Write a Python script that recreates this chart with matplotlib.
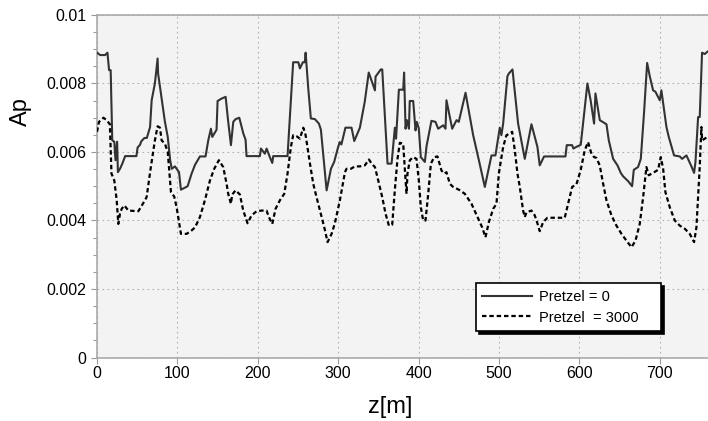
import matplotlib
matplotlib.use("Agg")
import matplotlib.pyplot as plt
from matplotlib.ticker import MultipleLocator

plt.rcParams['font.family'] = ['Liberation Sans', 'DejaVu Sans']

# Pretzel = 0 (solid)
z0 = [0, 4, 10, 13, 15, 17, 19, 21.5, 23, 25, 26, 28.6, 31.5, 35, 49, 50.5, 53.5, 55, 59, 62,
      66, 68, 72, 75.4, 76, 80.4, 84.5, 88, 91, 93, 97, 102, 104.4, 107, 112.7, 117.7, 122, 128,
      135, 138.4, 141.7, 143.4, 148.7, 150, 155, 160, 163, 166.6, 169.5, 172.4, 177, 182, 184.8,
      186, 202.6, 203.9, 208.8, 211, 215, 218, 219.2, 237, 244, 250.5, 252.4, 256, 258.5, 259.5,
      262.8, 266, 271, 276, 278.5, 285.6, 291, 295, 300, 302, 304, 309, 316.6, 320, 327, 333, 338,
      345.7, 346.5, 353, 354.8, 361.4, 366.4, 370.5, 372, 375.5, 380.9, 382, 383.8, 385.4, 388,
      389, 393.3, 396.2, 397.9, 400.3, 402.8, 407.8, 409.9, 416, 421, 424.4, 430.6, 433.5, 434.7,
      441.8, 447.2, 450, 458.4, 467.9, 475, 482.4, 490.7, 495.6, 501, 503, 505.2, 510.5, 512.2,
      516.8, 523.8, 532.1, 540.4, 547.8, 550.7, 556.1, 582.7, 584.3, 591, 592.6, 596.3, 601.7,
      610, 614, 618.3, 620, 625.4, 633.7, 636.6, 642, 647.4, 651.5, 654.4, 660.6, 665.6, 667.7,
      673, 676.4, 680.5, 684.3, 687.6, 691.7, 694.6, 700, 702, 708.3, 711.2, 717.8, 724.9, 727.8,
      733.2, 739.4, 742.7, 744.4, 747.7, 749.7, 752.6, 756, 759.3]
ap0 = [0.0089, 0.00883, 0.00883, 0.0089, 0.00839, 0.00839, 0.00634, 0.0063, 0.00576, 0.0063,
       0.00541, 0.00551, 0.00566, 0.00588, 0.00588, 0.00613, 0.00621, 0.00631, 0.00641, 0.00641,
       0.00673, 0.00751, 0.008, 0.00873, 0.00829, 0.00756, 0.00688, 0.00644, 0.00576, 0.00551,
       0.00558, 0.00541, 0.0049, 0.00493, 0.005, 0.00537, 0.00563, 0.00587, 0.00587, 0.00634,
       0.00668, 0.00644, 0.00665, 0.00749, 0.00756, 0.00761, 0.00693, 0.0062, 0.00688, 0.00696,
       0.007, 0.00654, 0.00636, 0.00588, 0.00588, 0.0061, 0.00595, 0.0061, 0.00585, 0.00568,
       0.00588, 0.00588, 0.00862, 0.00862, 0.00844, 0.00862, 0.00862, 0.0089, 0.00785, 0.00698,
       0.00696, 0.00683, 0.00665, 0.00488, 0.00551, 0.00571, 0.00615, 0.00629, 0.00622, 0.00671,
       0.00671, 0.00632, 0.00671, 0.00746, 0.00832, 0.0078, 0.0082, 0.00841, 0.00841, 0.00566,
       0.00566, 0.00671, 0.00639, 0.00782, 0.00782, 0.00832, 0.00668, 0.00693, 0.00668, 0.00749,
       0.00749, 0.00663, 0.00688, 0.00668, 0.00585, 0.00571, 0.00617, 0.00691, 0.00688, 0.00668,
       0.00678, 0.00668, 0.00751, 0.00668, 0.00693, 0.00688, 0.00773, 0.00649, 0.00576, 0.00498,
       0.0059, 0.0059, 0.00671, 0.00649, 0.00683, 0.00821, 0.00829, 0.00841, 0.00683, 0.0058,
       0.00681, 0.00615, 0.00561, 0.00587, 0.00587, 0.0062, 0.0062, 0.0061, 0.00615, 0.00621,
       0.008, 0.00751, 0.00683, 0.00771, 0.00693, 0.00681, 0.00634, 0.0058, 0.00561, 0.00539,
       0.00529, 0.00515, 0.005, 0.00548, 0.00556, 0.0058, 0.00717, 0.0086, 0.00821, 0.0078,
       0.00776, 0.00751, 0.0078, 0.00673, 0.00644, 0.0059, 0.00587, 0.0058, 0.0059, 0.00558,
       0.00539, 0.00571, 0.00702, 0.00702, 0.0089, 0.00886, 0.00893]

# Pretzel = 3000 (dashed)
z1 = [0, 2.5, 8, 12, 16, 18, 21.5, 24.5, 26.5, 28.6, 30.7, 34, 39, 51.4, 57.6, 61.7, 67, 72,
      75.4, 78.3, 80.4, 84.5, 88, 92, 96, 99, 104.4, 111.5, 117.7, 122, 128, 134.2, 140.5, 145.8,
      151.6, 157, 161.2, 163.2, 166.6, 168.2, 172.4, 177.7, 181.9, 187.3, 192.3, 198.5, 204.7,
      210.9, 213.8, 218, 222.1, 227.5, 232.9, 237, 241.2, 244, 248.2, 252.4, 256.6, 259.5, 264.9,
      269, 273.1, 279.4, 282.7, 286.8, 291.8, 295.9, 302.1, 308.4, 310.4, 315.8, 320.8, 327,
      333.2, 338.2, 342.3, 345.7, 349.8, 354.8, 358.9, 363.1, 367.2, 370.5, 373.8, 376.7, 380.9,
      383, 385, 386.2, 389.1, 393.3, 397.4, 400.3, 402.8, 405.7, 408.6, 412, 415.3, 419.4, 423.5,
      428.5, 431.8, 434.7, 438.9, 443, 450.1, 457.5, 465.8, 473.3, 479.1, 483.2, 487.4, 492.8,
      496.9, 499.8, 505.2, 509.3, 513.5, 516.4, 519.7, 523, 525.9, 530, 532.1, 534.2, 540.4,
      544.5, 547.8, 550.7, 554.9, 560.3, 581.8, 586, 591, 596.3, 601.7, 606.7, 610.8, 615, 618.3,
      621.2, 625.3, 629.6, 633.7, 639.9, 646.1, 652.4, 658.6, 664.8, 669.8, 675.1, 679.3, 683.4,
      686.3, 691.7, 697.9, 701.3, 704.2, 707, 712.4, 718.7, 724.9, 731.1, 737.3, 742.7, 745.6,
      749.7, 751.8, 752.6, 759.3]
ap1 = [0.00659, 0.00688, 0.007, 0.00693, 0.00681, 0.00537, 0.00517, 0.00459, 0.0039, 0.0042,
       0.00434, 0.00444, 0.00429, 0.00427, 0.00451, 0.00468, 0.00556, 0.00634, 0.00675, 0.00671,
       0.00634, 0.00624, 0.006, 0.00483, 0.0047, 0.00439, 0.00361, 0.00361, 0.00371, 0.0038,
       0.0041, 0.00459, 0.00517, 0.00551, 0.00576, 0.00556, 0.00507, 0.00478, 0.00449, 0.00476,
       0.00488, 0.00476, 0.00429, 0.00392, 0.00415, 0.00427, 0.00429, 0.00429, 0.0041, 0.0039,
       0.00434, 0.00459, 0.00478, 0.00537, 0.00615, 0.00649, 0.00646, 0.00639, 0.00671, 0.00649,
       0.00566, 0.00507, 0.00468, 0.0041, 0.0038, 0.00337, 0.00361, 0.00392, 0.00459, 0.00541,
       0.00551, 0.00551, 0.00558, 0.00558, 0.00561, 0.00578, 0.00564, 0.00556, 0.00517, 0.00468,
       0.0042, 0.00385, 0.00388, 0.0049, 0.0058, 0.00627, 0.00624, 0.00546, 0.00478, 0.00537,
       0.00576, 0.00585, 0.0058, 0.00517, 0.00439, 0.004, 0.004, 0.00478, 0.00566, 0.00585,
       0.00587, 0.00546, 0.00537, 0.00541, 0.00507, 0.00498, 0.0049, 0.00478, 0.00449, 0.0041,
       0.0038, 0.00351, 0.00395, 0.00434, 0.00449, 0.00537, 0.00615, 0.00649, 0.00654, 0.00659,
       0.00605, 0.00537, 0.00498, 0.00429, 0.0041, 0.00424, 0.00429, 0.00415, 0.00392, 0.00369,
       0.00395, 0.00408, 0.00408, 0.00449, 0.00498, 0.00505, 0.00548, 0.00605, 0.00629, 0.00595,
       0.00585, 0.00583, 0.00561, 0.00507, 0.00459, 0.00415, 0.00385, 0.00361, 0.00341, 0.00322,
       0.00341, 0.0039, 0.00468, 0.00556, 0.00532, 0.00539, 0.00548, 0.00585, 0.00551, 0.00483,
       0.00439, 0.004, 0.00385, 0.00376, 0.00361, 0.00337, 0.0038, 0.00556, 0.00673, 0.00634,
       0.00644]

series_labels = ["Pretzel = 0", "Pretzel  = 3000"]
xticks = [0, 100, 200, 300, 400, 500, 600, 700]
yticks = [0, 0.002, 0.004, 0.006, 0.008, 0.01]
ytick_labels = ["0", "0.002", "0.004", "0.006", "0.008", "0.01"]

fig = plt.figure(figsize=(7.08, 4.21), dpi=100)
ax = fig.add_axes([97 / 708, (421 - 357.5) / 421, (708 - 97) / 708, (357.5 - 15) / 421])
ax.set_facecolor('#f3f3f3')

ax.plot(z0, ap0, color='#333333', lw=1.5, label=series_labels[0], zorder=3)
ax.plot(z1, ap1, color='black', lw=1.6, linestyle=(0, (2, 1.3)), label=series_labels[1], zorder=3)

ax.set_xlim(0, 760)
ax.set_ylim(0, 0.01)
ax.set_xticks(xticks)
ax.set_yticks(yticks)
ax.set_yticklabels(ytick_labels)
ax.yaxis.set_minor_locator(MultipleLocator(0.0005))
ax.tick_params(axis='both', which='major', labelsize=11.5, direction='out', length=4,
               color='#999999', width=0.8)
ax.tick_params(axis='y', which='minor', direction='out', length=3, color='#999999', width=0.8)
ax.tick_params(axis='x', which='major', pad=2)

ax.grid(True, which='major', color='#b0b0b0', linestyle=(0, (1.5, 3)), linewidth=0.8)

for s in ['right']:
    ax.spines[s].set_visible(False)
for s in ['left', 'bottom', 'top']:
    ax.spines[s].set_color('#aaaaaa')
    ax.spines[s].set_linewidth(1.2)

fig.text(390 / 708, 1 - 407 / 421, "z[m]", fontsize=17, ha='center', va='center')
fig.text(21 / 708, 1 - 112 / 421, "Ap", fontsize=17, ha='center', va='center', rotation=90)

leg = ax.legend(loc='lower left', bbox_to_anchor=(0.62, 0.077, 0.303, 0.14), mode='expand',
                borderaxespad=0, fontsize=10.5, frameon=True, fancybox=False,
                handlelength=3.4, handletextpad=0.5, borderpad=0.45, labelspacing=0.45,
                shadow={'ox': 2, 'oy': -2, 'color': 'black', 'alpha': 1})
leg.get_frame().set_edgecolor('black')
leg.get_frame().set_linewidth(1.2)
leg.get_frame().set_facecolor('white')
leg.get_frame().set_alpha(1)

fig.savefig("out.png", dpi=100)
